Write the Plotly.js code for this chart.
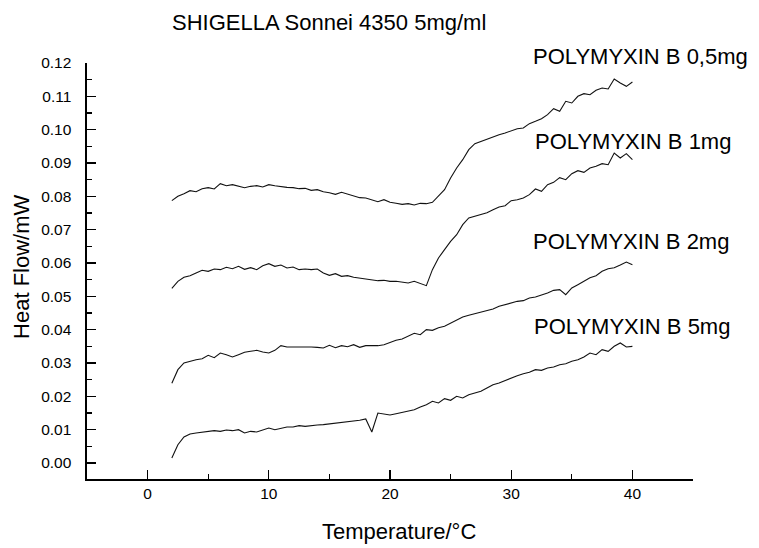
<!DOCTYPE html>
<html>
<head>
<meta charset="utf-8">
<script src="https://cdn.plot.ly/plotly-3.0.1.min.js"></script>
<style>html,body{margin:0;padding:0;background:#fff;}#chart{width:759px;height:548px;}</style>
</head>
<body>
<div id="chart"></div>
<script>
const temperature = [2,2.5,3,3.5,4,4.5,5,5.5,6,6.5,7,7.5,8,8.5,9,9.5,10,10.5,11,11.5,12,12.5,13,13.5,14,14.5,15,15.5,16,16.5,17,17.5,18,18.5,19,19.5,20,20.5,21,21.5,22,22.5,23,23.5,24,24.5,25,25.5,26,26.5,27,27.5,28,28.5,29,29.5,30,30.5,31,31.5,32,32.5,33,33.5,34,34.5,35,35.5,36,36.5,37,37.5,38,38.5,39,39.5,40];

const flow05 = [0.0787,0.0800,0.0808,0.0817,0.0814,0.0823,0.0826,0.0822,0.0838,0.0832,0.0835,0.0830,0.0826,0.0830,0.0832,0.0828,0.0835,0.0832,0.0829,0.0827,0.0826,0.0823,0.0824,0.0818,0.0820,0.0814,0.0811,0.0806,0.0812,0.0806,0.0800,0.0796,0.0795,0.0790,0.0784,0.0790,0.0782,0.0779,0.0776,0.0778,0.0774,0.0779,0.0778,0.0782,0.0800,0.0820,0.0855,0.0885,0.0910,0.0940,0.0958,0.0965,0.0972,0.0978,0.0985,0.0990,0.0997,0.1003,0.1005,0.1018,0.1025,0.1033,0.1045,0.1063,0.1055,0.1085,0.1080,0.1100,0.1108,0.1105,0.1118,0.1125,0.1122,0.1152,0.1140,0.1130,0.1143];

const flow1 = [0.0524,0.0545,0.0557,0.0562,0.0570,0.0578,0.0575,0.0582,0.0580,0.0587,0.0583,0.0590,0.0581,0.0586,0.0580,0.0592,0.0598,0.0590,0.0594,0.0585,0.0588,0.0580,0.0582,0.0580,0.0582,0.0570,0.0563,0.0568,0.0560,0.0562,0.0557,0.0555,0.0553,0.0550,0.0547,0.0548,0.0545,0.0545,0.0543,0.0540,0.0545,0.0538,0.0532,0.0580,0.0615,0.0640,0.0665,0.0685,0.0715,0.0735,0.0740,0.0745,0.0751,0.0760,0.0768,0.0772,0.0787,0.0790,0.0795,0.0805,0.0822,0.0815,0.0835,0.0842,0.0856,0.0850,0.0868,0.0877,0.0872,0.0885,0.0890,0.0898,0.0895,0.0930,0.0915,0.0928,0.0910];

const flow2 = [0.0239,0.0280,0.0300,0.0306,0.0310,0.0313,0.0323,0.0316,0.0330,0.0325,0.0318,0.0325,0.0332,0.0335,0.0338,0.0333,0.0330,0.0338,0.0352,0.0348,0.0348,0.0349,0.0350,0.0348,0.0347,0.0345,0.0353,0.0346,0.0352,0.0349,0.0355,0.0347,0.0352,0.0352,0.0352,0.0355,0.0362,0.0368,0.0372,0.0380,0.0389,0.0385,0.0400,0.0398,0.0406,0.0410,0.0420,0.0428,0.0438,0.0443,0.0448,0.0452,0.0458,0.0462,0.0470,0.0475,0.0480,0.0485,0.0487,0.0495,0.0498,0.0503,0.0510,0.0518,0.0520,0.0505,0.0525,0.0535,0.0545,0.0556,0.0562,0.0575,0.0583,0.0586,0.0594,0.0603,0.0595];

const flow5 = [0.0015,0.0055,0.0078,0.0087,0.0090,0.0092,0.0093,0.0097,0.0095,0.0099,0.0097,0.0100,0.0090,0.0095,0.0093,0.0098,0.0105,0.0100,0.0105,0.0108,0.0108,0.0112,0.0110,0.0113,0.0114,0.0115,0.0117,0.0120,0.0122,0.0123,0.0127,0.0128,0.0132,0.0093,0.0150,0.0147,0.0144,0.0148,0.0152,0.0157,0.0160,0.0168,0.0175,0.0185,0.0180,0.0193,0.0188,0.0200,0.0195,0.0205,0.0210,0.0215,0.0225,0.0235,0.0240,0.0248,0.0255,0.0262,0.0268,0.0272,0.0280,0.0278,0.0285,0.0288,0.0295,0.0298,0.0305,0.0310,0.0318,0.0330,0.0325,0.0340,0.0335,0.0350,0.0360,0.0348,0.0350];

const seriesLabels = ["POLYMYXIN B 0,5mg","POLYMYXIN B 1mg","POLYMYXIN B 2mg","POLYMYXIN B 5mg"];
const xTitle = 'Temperature/°C';
const yTitle = 'Heat Flow/mW';
const chartTitle = 'SHIGELLA Sonnei 4350 5mg/ml';

const allFlows = [flow05, flow1, flow2, flow5];
const traces = allFlows.map((f, i) => ({
  x: temperature, y: f, type: 'scatter', mode: 'lines',
  name: seriesLabels[i],
  line: {color: '#111', width: 1.1},
  hoverinfo: 'skip'
}));

const font = {family: 'Arial, "Liberation Sans", sans-serif', color: '#000'};

const labelPos = [[0.7333, 1.0145], [0.7366, 0.8125], [0.7333, 0.5721], [0.7350, 0.3654]];
const annotations = seriesLabels.map((t, i) => ({
  x: labelPos[i][0], y: labelPos[i][1], xref: 'paper', yref: 'paper',
  text: t, showarrow: false, xanchor: 'left', yanchor: 'middle',
  font: Object.assign({size: 22}, font)
}));
annotations.push({
  x: 0.515, y: -0.1274, xref: 'paper', yref: 'paper', text: xTitle,
  showarrow: false, xanchor: 'center', yanchor: 'middle',
  font: Object.assign({size: 22}, font)
});
annotations.push({
  x: -0.109, y: 0.5096, xref: 'paper', yref: 'paper', text: yTitle,
  showarrow: false, xanchor: 'center', yanchor: 'middle', textangle: -90,
  font: Object.assign({size: 22}, font)
});

const layout = {
  width: 759, height: 548,
  margin: {l: 87, r: 66, t: 63, b: 69},
  paper_bgcolor: '#fff', plot_bgcolor: '#fff',
  showlegend: false,
  font: Object.assign({size: 15.5}, font),
  title: {
    text: chartTitle,
    x: 172/759, xref: 'container', xanchor: 'left',
    y: 1 - 22/548, yref: 'container', yanchor: 'middle',
    font: Object.assign({size: 22}, font)
  },
  xaxis: {
    range: [-5, 45], tick0: 0, dtick: 10,
    showgrid: false, zeroline: false,
    showline: true, linecolor: '#000', linewidth: 1.6,
    ticks: 'inside', ticklen: 9, tickwidth: 1.3, tickcolor: '#000',
    minor: {dtick: 5, tick0: 0, ticks: 'inside', ticklen: 5, tickwidth: 1.2, tickcolor: '#000', showgrid: false},
    tickfont: Object.assign({size: 15.5}, font)
  },
  yaxis: {
    range: [-0.0048, 0.12], tick0: 0, dtick: 0.01, tickformat: '.2f',
    showgrid: false, zeroline: false,
    showline: true, linecolor: '#000', linewidth: 1.6,
    ticks: 'inside', ticklen: 9, tickwidth: 1.3, tickcolor: '#000',
    minor: {dtick: 0.005, tick0: 0, ticks: 'inside', ticklen: 5, tickwidth: 1.2, tickcolor: '#000', showgrid: false},
    tickfont: Object.assign({size: 15.5}, font),
    ticklabelstandoff: 11
  },
  annotations: annotations
};

Plotly.newPlot('chart', traces, layout, {displayModeBar: false, staticPlot: true});
</script>
</body>
</html>
